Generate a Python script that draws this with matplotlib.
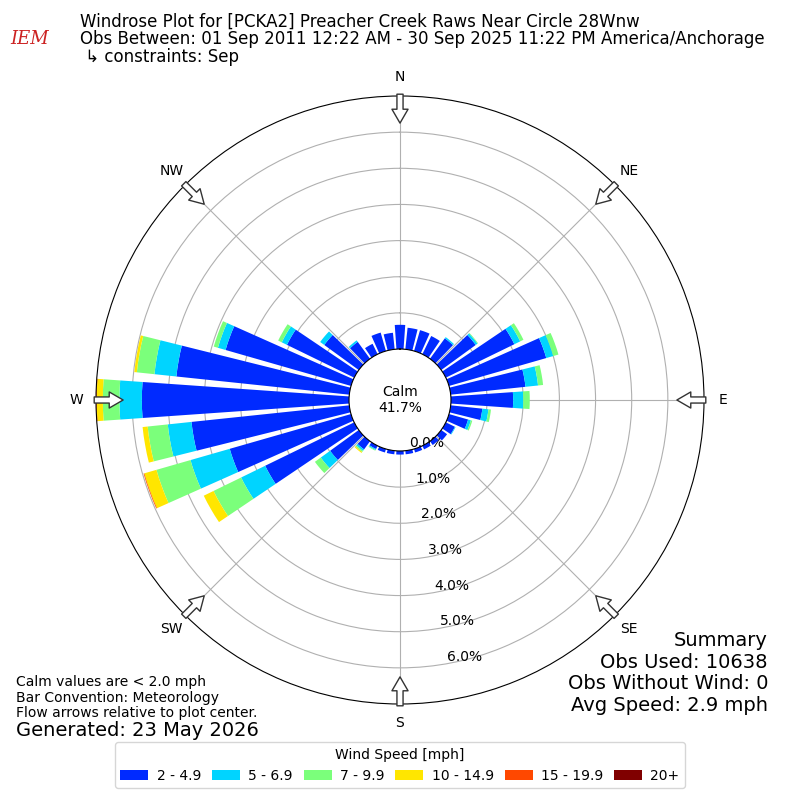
import numpy as np
import matplotlib
matplotlib.use("Agg")
import matplotlib.pyplot as plt

# ---------------- data ----------------
directions = list(range(0, 360, 10))  # compass degrees, bar centres
speed_labels = ["2 - 4.9", "5 - 6.9", "7 - 9.9", "10 - 14.9", "15 - 19.9", "20+"]
speed_colors = ["#002aff", "#00d4ff", "#7bff7b", "#ffe600", "#ff4800", "#800000"]

# frequency (%) per direction for each speed bin
spd_2_5 = [0.67, 0.60, 0.60, 0.56, 0.70, 1.18, 2.11, 2.80, 2.08, 1.72, 0.88, 0.55,
           0.28, 0.20, 0.13, 0.11, 0.10, 0.10, 0.10, 0.10, 0.10, 0.10, 0.28, 0.98,
           2.74, 3.49, 4.39, 5.73, 4.81, 3.61, 2.07, 1.18, 0.58, 0.32, 0.53, 0.46]
spd_5_7 = [0.00, 0.00, 0.00, 0.00, 0.04, 0.06, 0.18, 0.20, 0.35, 0.28, 0.17, 0.08,
           0.02, 0.00, 0.00, 0.00, 0.00, 0.00, 0.00, 0.00, 0.00, 0.03, 0.05, 0.32,
           0.74, 1.13, 0.66, 0.62, 0.61, 0.22, 0.16, 0.14, 0.05, 0.00, 0.00, 0.00]
spd_7_10 = [0.00, 0.00, 0.00, 0.00, 0.00, 0.02, 0.10, 0.15, 0.14, 0.18, 0.07, 0.04,
            0.00, 0.00, 0.00, 0.00, 0.00, 0.00, 0.00, 0.00, 0.00, 0.02, 0.04, 0.20,
            0.85, 0.98, 0.56, 0.46, 0.49, 0.12, 0.11, 0.00, 0.00, 0.00, 0.00, 0.00]
spd_10_15 = [0.00, 0.00, 0.00, 0.00, 0.00, 0.00, 0.00, 0.00, 0.00, 0.00, 0.00, 0.00,
             0.00, 0.00, 0.00, 0.00, 0.00, 0.00, 0.00, 0.00, 0.00, 0.00, 0.03, 0.00,
             0.30, 0.35, 0.14, 0.17, 0.07, 0.00, 0.00, 0.00, 0.00, 0.00, 0.00, 0.00]
spd_15_20 = [0.00, 0.00, 0.00, 0.00, 0.00, 0.00, 0.00, 0.00, 0.00, 0.00, 0.00, 0.00,
             0.00, 0.00, 0.00, 0.00, 0.00, 0.00, 0.00, 0.00, 0.00, 0.00, 0.00, 0.00,
             0.00, 0.02, 0.00, 0.02, 0.00, 0.00, 0.00, 0.00, 0.00, 0.00, 0.00, 0.00]
spd_20p = [0.0] * 36

calm_pct = 41.7
rticks = [0, 1, 2, 3, 4, 5, 6]
compass_angles = [0, 45, 90, 135, 180, 225, 270, 315]
compass_labels = ["N", "NE", "E", "SE", "S", "SW", "W", "NW"]

title_lines = [
    "Windrose Plot for [PCKA2] Preacher Creek Raws Near Circle 28Wnw",
    "Obs Between: 01 Sep 2011 12:22 AM - 30 Sep 2025 11:22 PM America/Anchorage",
    " \u21b3 constraints: Sep",
]
summary_lines = ["Summary", "Obs Used: 10638", "Obs Without Wind: 0", "Avg Speed: 2.9 mph"]
notes_text = ("Calm values are < 2.0 mph\nBar Convention: Meteorology\n"
              "Flow arrows relative to plot center.")
generated_text = "Generated: 23 May 2026"

# ---------------- plot ----------------
fig = plt.figure(figsize=(8, 8), dpi=100)
ax = fig.add_axes([0.12, 0.12, 0.76, 0.76], projection="polar")
ax.set_theta_zero_location("N")
ax.set_theta_direction(-1)

theta = np.deg2rad(directions)
width = np.deg2rad(8.0)
series = [spd_2_5, spd_5_7, spd_7_10, spd_10_15, spd_15_20, spd_20p]
bottom = np.zeros(len(directions))
handles = []
for vals, col, lab in zip(series, speed_colors, speed_labels):
    vals = np.asarray(vals)
    b = ax.bar(theta, vals, width=width, bottom=bottom, color=col,
               linewidth=0, label=lab, zorder=2)
    handles.append(b)
    bottom = bottom + vals

ax.set_ylim(0, 7.0)
ax.set_rorigin(-1.41)
ax.set_yticks(rticks)
ax.set_yticklabels([f"{v:.1f}%" for v in rticks], fontsize=10)
ax.set_rlabel_position(170)
ax.set_xticks(np.deg2rad(compass_angles))
ax.set_xticklabels(compass_labels, fontsize=10)
ax.tick_params(axis="x", pad=3.5)
ax.grid(True, color="#b0b0b0", linewidth=0.8, zorder=1)
ax.set_axisbelow(True)

# flow arrows (pointing toward plot centre)
for ang in compass_angles:
    t = np.deg2rad(ang)
    ax.annotate("", xy=(t, 6.25), xytext=(t, 7.05), annotation_clip=False,
                arrowprops=dict(arrowstyle="simple,head_length=0.5,head_width=0.58,tail_width=0.22",
                                mutation_scale=20, fc="white", ec="#333333", lw=1,
                                shrinkA=0, shrinkB=0), zorder=5)

ax.text(0.5, 0.5, f"Calm\n{calm_pct:.1f}%", transform=ax.transAxes,
        ha="center", va="center", fontsize=10, zorder=6)

# titles
ys = [0.973, 0.951, 0.929]
for y, line in zip(ys, title_lines):
    fig.text(0.1, y, line, fontsize=12, ha="left", va="center")
fig.text(0.037, 0.951, "IEM", fontsize=13, color="#cc2222", family="DejaVu Serif",
         style="italic", ha="center", va="center")

# summary block (right-aligned lines)
sum_ys = [0.1995, 0.1725, 0.1455, 0.1185]
for y, line in zip(sum_ys, summary_lines):
    fig.text(0.96, y, line, fontsize=14, ha="right", va="center")

fig.text(0.02, 0.128, notes_text, fontsize=10, ha="left", va="center", linespacing=1.15)
fig.text(0.02, 0.0875, generated_text, fontsize=14, ha="left", va="center")

fig.legend(handles=handles, labels=speed_labels, loc="lower center",
           bbox_to_anchor=(0.5, 0.006), ncol=6, title="Wind Speed [mph]",
           fontsize=10, title_fontsize=10, columnspacing=0.8, handletextpad=0.6)

fig.savefig("out.png", dpi=100)
